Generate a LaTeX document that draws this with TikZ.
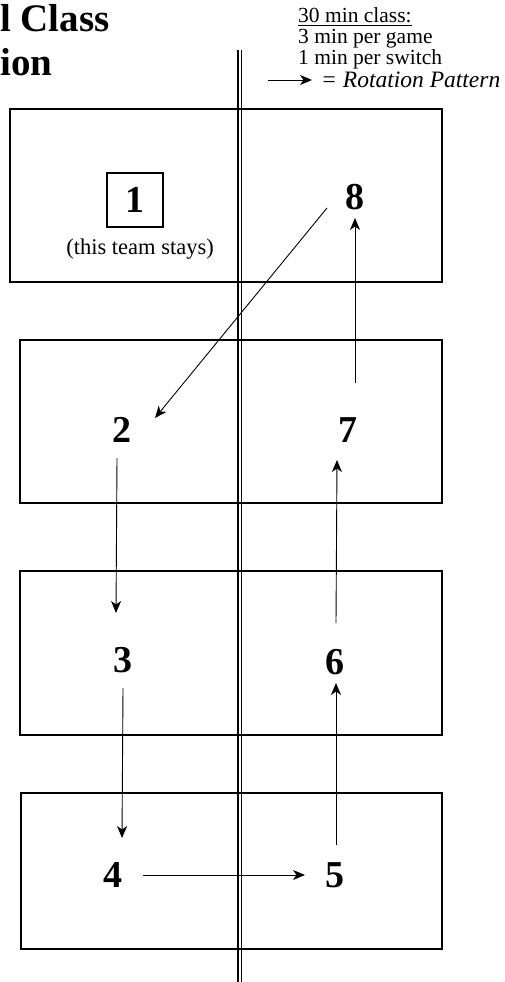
\documentclass[tikz,border=0pt]{standalone}
\usepackage{fontspec}
\setmainfont{Liberation Serif}
\usetikzlibrary{arrows.meta,positioning,calc}

\begin{document}
\begin{tikzpicture}[
    x=1pt, y=-1pt,
    court/.style={draw, line width=1.4pt, inner sep=0pt},
    team/.style={inner sep=3pt, font=\fontsize{38}{44}\selectfont\bfseries},
    titletext/.style={inner sep=0pt, anchor=base west, font=\fontsize{39}{45}\selectfont\bfseries},
    keytext/.style={inner sep=0pt, anchor=base west, font=\fontsize{21.5}{25}\selectfont},
    arrow/.style={-{Stealth[length=12pt, width=10pt, inset=3.5pt]}, line width=0.9pt}
]
  \useasboundingbox (0,0) rectangle (504,982);

  % net down the middle
  \coordinate (nettop) at (239.5,50);
  \coordinate (netbot) at (239.5,982);
  \draw[double, double distance=2pt, line width=1.1pt] (nettop) -- (netbot);

  % courts
  \node[court, minimum width=432, minimum height=173] (courtA) at (226,195.5) {};
  \node[court, minimum width=422, minimum height=163] (courtB) at (231,421.5) {};
  \node[court, minimum width=422, minimum height=164] (courtC) at (231,653) {};
  \node[court, minimum width=421, minimum height=156] (courtD) at (231.5,871) {};

  % title
  \node[titletext] (titleA) at (0,32) {l Class};
  \node[titletext] (titleB) at (0,75) {ion};

  % key
  \node[keytext] (keyA) at (298,23) {\underline{30 min class:}};
  \node[keytext] (keyB) at (298,44) {3 min per game};
  \node[keytext] (keyC) at (298,64) {1 min per switch};
  \node[keytext, anchor=west, font=\fontsize{23.5}{26}\selectfont\itshape] (keyD) at (321,80) {= Rotation Pattern};
  \coordinate (keyfrom) at (268,80);
  \draw[arrow] (keyfrom) -- ([xshift=-9pt]keyD.west);

  % teams
  \node[team, draw, line width=1.2pt, minimum width=56, minimum height=54] (t1) at (135,200) {1};
  \node[inner sep=0pt, font=\fontsize{22.5}{26}\selectfont] (stays) at (140,249) {(this team stays)};
  \node[team] (t2) at (122,430) {2};
  \node[team] (t3) at (123,660) {3};
  \node[team] (t4) at (113,875) {4};
  \node[team] (t5) at (335,875) {5};
  \node[team] (t6) at (335,662) {6};
  \node[team] (t7) at (348,430) {7};
  \node[team] (t8) at (355,197) {8};

  % rotation
  \draw[arrow] ($(t8)+(-28,11)$) -- ($(t2)+(33,-12)$);
  \draw[arrow] ($(t2)+(-5,28)$) -- ($(t3)+(-7,-47)$);
  \draw[arrow] ($(t3)+(0,28)$) -- ($(t4)+(9,-37)$);
  \draw[arrow] ($(t4)+(30,0)$) -- ($(t5)+(-30,0)$);
  \draw[arrow] ($(t5)+(1,-30)$) -- ($(t6)+(1,21)$);
  \draw[arrow] ($(t6)+(1,-39)$) -- ($(t7)+(-11,30)$);
  \draw[arrow] ($(t7)+(7,-47)$) -- ($(t8)+(0,21)$);
\end{tikzpicture}
\end{document}
